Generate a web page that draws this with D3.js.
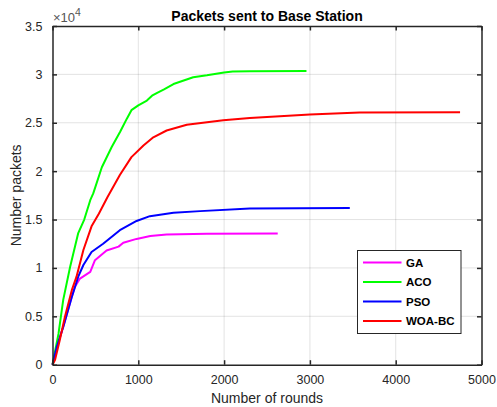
<!DOCTYPE html>
<meta charset="utf-8">
<style>
body { margin: 0; background: #fff; }
text { font-family: Arial, "Liberation Sans", Helvetica, sans-serif; fill: #262626; }
.grid line { stroke: #262626; stroke-opacity: 0.13; }
.series { fill: none; stroke-width: 2; stroke-linejoin: round; }
</style>
<svg width="497" height="407"></svg>
<script src="https://d3js.org/d3.v7.min.js"></script>
<script>

// rounds / packets
var ga = [[0,0],[50,1800],[125,3900],[220,6900],[262,8050],[320,8900],[440,9600],[495,10800],
  [630,11800],[770,12200],[825,12600],[980,13000],[1140,13300],[1330,13450],[1800,13540],[2625,13560]];
var aco = [[0,0],[10,500],[70,3200],[125,6700],[205,10100],[300,13600],[370,15000],[440,17000],
  [475,17700],[575,20400],[690,22500],[790,24100],[865,25400],[920,26300],[1000,26800],[1100,27300],
  [1160,27800],[1220,28100],[1300,28450],[1410,29000],[1640,29700],[1800,29900],[2000,30200],
  [2100,30300],[2300,30330],[2960,30350]];
var pso = [[0,0],[50,1860],[125,3900],[225,7000],[300,9100],[360,10300],[455,11650],[590,12500],
  [785,13900],[980,14850],[1135,15350],[1410,15700],[1720,15870],[2300,16130],[3465,16200]];
var woa = [[0,0],[30,500],[85,2550],[145,4950],[225,7700],[280,9100],[360,11850],[455,14300],
  [540,15600],[640,17300],[785,19600],[920,21450],[1060,22650],[1175,23500],[1330,24200],
  [1565,24800],[1990,25250],[2300,25500],[3000,25850],[3580,26050],[4750,26080]];

var seriesNames = ["GA", "ACO", "PSO", "WOA-BC"];
var seriesColors = ["#ff00ff", "#00ff00", "#0000ff", "#ff0000"];
var seriesData = [ga, aco, pso, woa];

var xTicks = [0, 1000, 2000, 3000, 4000, 5000];
var yTicks = [0, 5000, 10000, 15000, 20000, 25000, 30000, 35000];

var svg = d3.select("svg"),
    mLeft = 52.5, mRight = 481.5, mTop = 26, mBottom = 364.7;

var x = d3.scaleLinear().domain([0, 5000]).range([mLeft, mRight]),
    y = d3.scaleLinear().domain([0, 35000]).range([mBottom, mTop]);

// grid
var grid = svg.append("g").attr("class", "grid");
grid.selectAll(".gx").data(xTicks.slice(1, -1)).enter().append("line")
    .attr("x1", x).attr("x2", x).attr("y1", mTop).attr("y2", mBottom);
grid.selectAll(".gy").data(yTicks.slice(1, -1)).enter().append("line")
    .attr("x1", mLeft).attr("x2", mRight).attr("y1", y).attr("y2", y);

// lines
var line = d3.line().x(function(d) { return x(d[0]); }).y(function(d) { return y(d[1]); });
svg.selectAll(".series").data(seriesData).enter().append("path")
    .attr("class", "series")
    .attr("d", line)
    .style("stroke", function(d, i) { return seriesColors[i]; });

// axes (box with inward ticks)
function styleAxis(g) {
  g.select(".domain").attr("stroke", "#262626").attr("stroke-width", 1.5);
  g.selectAll(".tick line").attr("stroke", "#262626").attr("stroke-width", 1.5);
  g.selectAll("text").attr("fill", "#262626").style("font-size", "12.5px")
    .style("font-family", "Arial, 'Liberation Sans', sans-serif");
}
var fmtY = function(d) { return d === 0 ? "0" : String(d / 10000); };

svg.append("g").attr("transform", "translate(0," + mBottom + ")")
    .call(d3.axisBottom(x).tickValues(xTicks).tickSize(-4.5).tickSizeOuter(0).tickPadding(10).tickFormat(d3.format("d")))
    .call(styleAxis);
svg.append("g").attr("transform", "translate(0," + mTop + ")")
    .call(d3.axisTop(x).tickValues(xTicks).tickSize(-4.5).tickSizeOuter(0).tickFormat(""))
    .call(styleAxis);
svg.append("g").attr("transform", "translate(" + mLeft + ",0)")
    .call(d3.axisLeft(y).tickValues(yTicks).tickSize(-4.5).tickSizeOuter(0).tickPadding(10).tickFormat(fmtY))
    .call(styleAxis);
svg.append("g").attr("transform", "translate(" + mRight + ",0)")
    .call(d3.axisRight(y).tickValues(yTicks).tickSize(-4.5).tickSizeOuter(0).tickFormat(""))
    .call(styleAxis);

// titles
svg.append("text").attr("x", (mLeft + mRight) / 2).attr("y", 20.5)
    .attr("text-anchor", "middle").style("font-size", "14px").style("font-weight", "bold")
    .style("fill", "#000").text("Packets sent to Base Station");
svg.append("text").attr("x", (mLeft + mRight) / 2).attr("y", 403)
    .attr("text-anchor", "middle").style("font-size", "14px").text("Number of rounds");
svg.append("text").attr("transform", "translate(21," + (mTop + mBottom) / 2 + ") rotate(-90)")
    .attr("text-anchor", "middle").style("font-size", "14px").text("Number packets");

var exp = svg.append("text").attr("x", 53).attr("y", 21.5).style("font-size", "13px").style("fill", "#555");
exp.append("tspan").text("\u00d710");
exp.append("tspan").attr("dy", -6).style("font-size", "10.5px").text("4");

// legend
var lg = svg.append("g").attr("transform", "translate(357.5,250.5)");
lg.append("rect").attr("width", 103.5).attr("height", 83)
    .attr("fill", "#fff").attr("stroke", "#262626").attr("stroke-width", 1);
var item = lg.selectAll(".item").data(seriesNames).enter().append("g")
    .attr("transform", function(d, i) { return "translate(0," + (12 + i * 19.5) + ")"; });
item.append("line").attr("x1", 5.5).attr("x2", 44).attr("y1", 0).attr("y2", 0)
    .attr("stroke-width", 2).attr("stroke", function(d, i) { return seriesColors[i]; });
item.append("text").attr("x", 48.5).attr("dy", "0.36em")
    .style("font-size", "11.5px").style("font-weight", "bold").style("fill", "#000")
    .text(function(d) { return d; });

</script>
